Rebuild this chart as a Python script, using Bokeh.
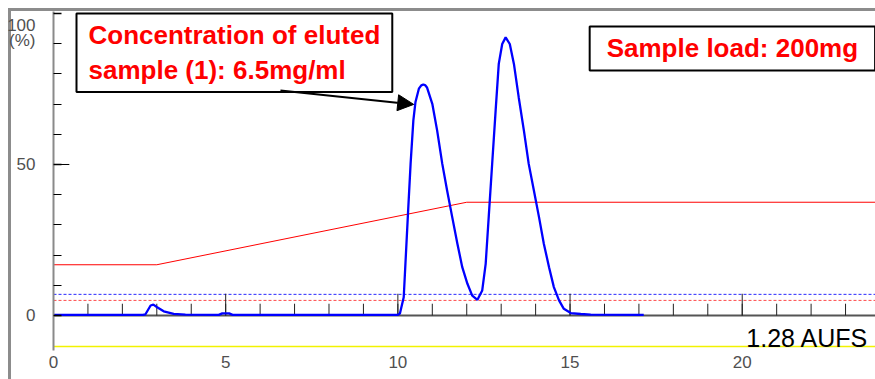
from bokeh.plotting import figure
from bokeh.models import (Range1d, FixedTicker, Span, Label, Arrow, NormalHead)
from bokeh.embed import file_html
from bokeh.resources import INLINE

# ---- data ----
time_min = [0, 2.6, 2.67, 2.82, 2.90, 3.01, 3.20, 3.49, 3.83, 4.8, 4.9, 5.1, 5.2,
            10.0, 10.06, 10.17, 10.22, 10.29, 10.37, 10.45, 10.51, 10.61, 10.68, 10.74,
            10.80, 10.85, 11.0, 11.14, 11.29, 11.43, 11.58, 11.73, 11.87, 12.02, 12.16,
            12.31, 12.45, 12.55, 12.64, 12.74, 12.84, 12.93, 13.03, 13.13, 13.25, 13.37,
            13.51, 13.66, 13.80, 13.95, 14.10, 14.24, 14.39, 14.53, 14.68, 14.82, 15.02,
            15.31, 15.6, 17.14]
signal_pct = [0.2, 0.2, 0.4, 3.3, 3.6, 2.75, 1.4, 0.56, 0.3, 0.2, 0.7, 0.7, 0.2,
              0.2, 0.66, 6.06, 17.2, 32.9, 50.3, 64.6, 70.6, 75.1, 76.2, 76.5,
              76.2, 75.4, 70.1, 61.3, 50.2, 41.4, 32.5, 23.7, 16.0, 10.5, 6.6,
              5.2, 8.3, 17.1, 32.9, 50.5, 68.0, 83.3, 89.9, 92.1, 89.9, 83.3,
              72.2, 61.2, 50.2, 41.4, 32.5, 23.7, 16.0, 9.4, 5.0, 2.2, 0.8,
              0.5, 0.3, 0.2]

gradient_time = [0, 3.0, 12.0, 24.0]
gradient_pct = [16.8, 16.8, 37.5, 37.5]

minute_ticks = list(range(1, 24))
five_min_ticks = [5, 10, 15, 20]
x_tick_values = [0, 5, 10, 15, 20]
y_major_ticks = [0, 50, 100]
y_minor_ticks = [10, 20, 30, 40, 60, 70, 80, 90]
y_long_ticks = [50]
y_label_overrides = {100: "\n100\n(%)"}

blue_level = 7.0
red_level = 5.0
yellow_level = -10.3
minute_tick_height = 3.9
five_min_tick_height = 7.2
long_tick_length = 0.46

note1 = "Concentration of eluted\nsample (1): 6.5mg/ml"
note2 = "Sample load: 200mg"
scale_text = "1.28 AUFS"

p = figure(width=875, height=379, output_backend="svg", toolbar_location=None,
           x_range=Range1d(0, 23.87), y_range=Range1d(-11.59, 100.66),
           min_border_left=53, min_border_right=0, min_border_top=11,
           min_border_bottom=29)
p.grid.visible = False
p.outline_line_color = None
p.background_fill_color = "white"
p.border_fill_alpha = 0
p.styles = {
    "background-color": "white",
    "background-image": "linear-gradient(#8c8c8c, #8c8c8c), linear-gradient(#8c8c8c, #8c8c8c)",
    "background-size": "3px 100%, 100% 3px",
    "background-position": "8px 8px, 8px 8px",
    "background-repeat": "no-repeat",
}

# axes
xa = p.xaxis[0]
xa.ticker = FixedTicker(ticks=x_tick_values)
xa.axis_line_color = None
xa.major_tick_line_color = None
xa.minor_tick_line_color = None
xa.major_tick_out = 0
xa.minor_tick_out = 0
xa.major_tick_in = 0
xa.minor_tick_in = 0
xa.major_label_standoff = 5
xa.major_label_text_font = "Liberation Sans"
xa.major_label_text_font_size = "17px"
xa.major_label_text_color = "#505050"

ya = p.yaxis[0]
ya.ticker = FixedTicker(ticks=y_major_ticks, minor_ticks=y_minor_ticks)
ya.axis_line_color = "#8a8a8a"
ya.axis_line_width = 2
ya.major_tick_in = 8
ya.major_tick_out = 0
ya.minor_tick_in = 8
ya.minor_tick_out = 0
ya.major_tick_line_color = "black"
ya.major_tick_line_width = 1.5
ya.minor_tick_line_color = "black"
ya.major_label_standoff = 18
ya.major_label_overrides = y_label_overrides
ya.major_label_text_font = "Liberation Sans"
ya.major_label_text_font_size = "17px"
ya.major_label_text_color = "#505050"
ya.major_label_text_line_height = 0.8

# longer tick at 50 %
p.segment(x0=[0] * len(y_long_ticks), y0=y_long_ticks,
          x1=[long_tick_length] * len(y_long_ticks), y1=y_long_ticks,
          line_color="black", line_width=1)

# reference lines
p.add_layout(Span(location=blue_level, dimension="width", line_color="#2a2aff",
                  line_width=1, line_dash="3 2", level="underlay"))
p.add_layout(Span(location=red_level, dimension="width", line_color="#ff4a4a",
                  line_width=1, line_dash="3 2", level="underlay"))
p.add_layout(Span(location=yellow_level, dimension="width", line_color="#f2f200",
                  line_width=1.5, level="underlay"))
p.add_layout(Span(location=0, dimension="width", line_color="#555555",
                  line_width=2, level="underlay"))

# time ticks on the baseline
p.segment(x0=minute_ticks, y0=[0] * len(minute_ticks), x1=minute_ticks,
          y1=[minute_tick_height] * len(minute_ticks), line_color="#222222", line_width=1)
p.segment(x0=five_min_ticks, y0=[0] * len(five_min_ticks), x1=five_min_ticks,
          y1=[five_min_tick_height] * len(five_min_ticks), line_color="#222222", line_width=1)

# gradient and chromatogram
p.line(gradient_time, gradient_pct, line_color="#ff0000", line_width=1)
p.line(time_min, signal_pct, line_color="#0000ff", line_width=2.3)

# annotations
p.add_layout(Label(x=0.668, y=100.0, text=note1, text_align="left", text_baseline="top",
                   text_font="Liberation Sans", text_font_style="bold",
                   text_font_size="26px", text_color="#ff0000", text_line_height=1.15,
                   border_line_color="black", border_line_width=2,
                   background_fill_color="white", padding=(12, 7)))
p.add_layout(Label(x=15.57, y=95.7, text=note2, text_align="left", text_baseline="top",
                   text_font="Liberation Sans", text_font_style="bold",
                   text_font_size="26px", text_color="#ff0000", text_line_height=1.15,
                   border_line_color="black", border_line_width=2,
                   background_fill_color="white", padding=(17, 7)))
p.add_layout(Arrow(end=NormalHead(size=16, fill_color="black", line_color="black"),
                   x_start=6.59, y_start=74.5, x_end=10.46, y_end=69.9,
                   line_color="black", line_width=2))
p.add_layout(Label(x=23.67, y=-2.98, text=scale_text, text_align="right",
                   text_baseline="top", text_font="Liberation Sans",
                   text_font_size="25px", text_color="black"))

open("out.html", "w").write(file_html(p, INLINE))
